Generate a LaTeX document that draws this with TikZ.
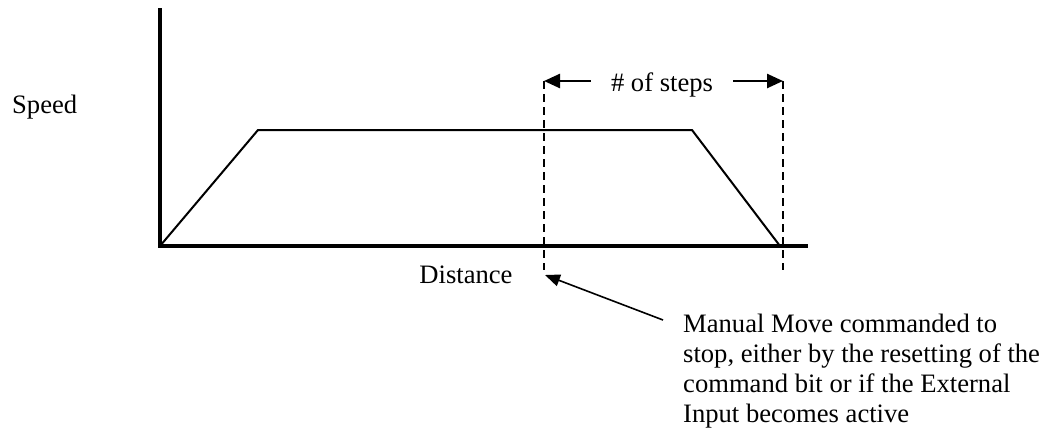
\documentclass[tikz,border=0pt]{standalone}
\usepackage{fontspec}
\setmainfont{Liberation Serif}
\usetikzlibrary{arrows.meta, positioning}

\begin{document}
\begin{tikzpicture}[
    x=1pt, y=-1pt,
    every node/.style={font=\fontsize{26.6}{29.8}\selectfont, inner sep=0pt},
    axis/.style={line width=4pt, line cap=rect},
    profile/.style={line width=2pt, line join=miter},
    marker/.style={line width=2pt, dash pattern=on 8pt off 5pt},
    dimarrow/.style={-{Triangle[length=16pt, width=14pt]}, line width=2.5pt},
    callout/.style={-{Triangle[length=15pt, width=12pt]}, line width=1.6pt}
]
    \useasboundingbox (0,0) rectangle (1047,429);

    % axes and speed profile
    \coordinate (O)        at (160,246);
    \coordinate (yTop)     at (160,10);
    \coordinate (xEnd)     at (806,246);
    \coordinate (accEnd)   at (258,130);
    \coordinate (decStart) at (692,130);
    \coordinate (stopPt)   at (780,246);

    \draw[axis] (yTop) -- (O) -- (xEnd);
    \draw[profile] (O) -- (accEnd) -- (decStart) -- (stopPt);

    % stop markers
    \coordinate (cmdTop) at (544,81);
    \coordinate (cmdBot) at (544,270);
    \coordinate (endTop) at (783,81);
    \coordinate (endBot) at (783,270);
    \draw[marker] (cmdTop) -- (cmdBot);
    \draw[marker] (endTop) -- (endBot);

    \node[anchor=base west]            (speedlbl) at (12,113)  {Speed};
    \node[anchor=base]                 (distlbl)  at (466,283) {Distance};
    \node[anchor=base, inner xsep=20pt] (stepslbl) at (662,91) {\# of steps};
    \node[anchor=north west, align=left] (notelbl) at (683,314)
        {Manual Move commanded to\\stop, either by the resetting of the\\command bit or if the External\\Input becomes active};

    \draw[dimarrow] (stepslbl.west |- cmdTop) -- (cmdTop);
    \draw[dimarrow] (stepslbl.east |- endTop) -- (endTop);

    \coordinate (noteTail) at (663,320);
    \coordinate (cmdStop)  at (545,275);
    \draw[callout] (noteTail) -- (cmdStop);

\end{tikzpicture}
\end{document}
